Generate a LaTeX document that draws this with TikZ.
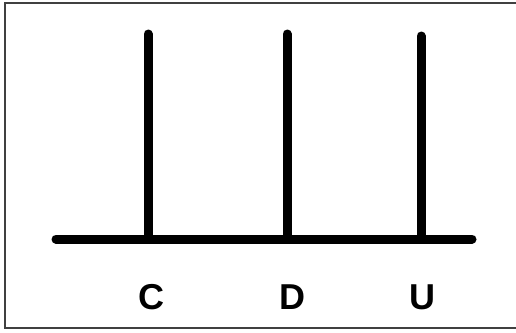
\documentclass[tikz,border=0pt]{standalone}
\usepackage{fontspec}
\setmainfont{Liberation Sans}
\usetikzlibrary{positioning}

\begin{document}
\begin{tikzpicture}[
  x=1pt, y=-1pt,
  bar/.style={line width=9pt, line cap=round},
  post/.style={line width=9pt, line cap=round},
  lbl/.style={anchor=base, inner sep=0pt, font=\fontsize{36}{40}\selectfont\bfseries}
]
\useasboundingbox (0,0) rectangle (516,332);
\draw[line width=1.2pt, black!75] (517,3) -- (5,3) -- (5,328) -- (517,328);

% the bar and the three posts
\coordinate (left) at (56,239);
\coordinate (right) at (472,239);
\coordinate (cbot) at (148,239);
\coordinate (dbot) at (287,239);
\coordinate (ubot) at (421,239);
\coordinate (ctop) at (148,34);
\coordinate (dtop) at (287,34);
\coordinate (utop) at (421,36);

\draw[bar] (left) -- (right);
\draw[post] (cbot) -- (ctop);
\draw[post] (dbot) -- (dtop);
\draw[post] (ubot) -- (utop);

\node[lbl] (c) at (151,309) {C};
\node[lbl] (d) at (292,309) {D};
\node[lbl] (u) at (422,309) {U};
\end{tikzpicture}
\end{document}
